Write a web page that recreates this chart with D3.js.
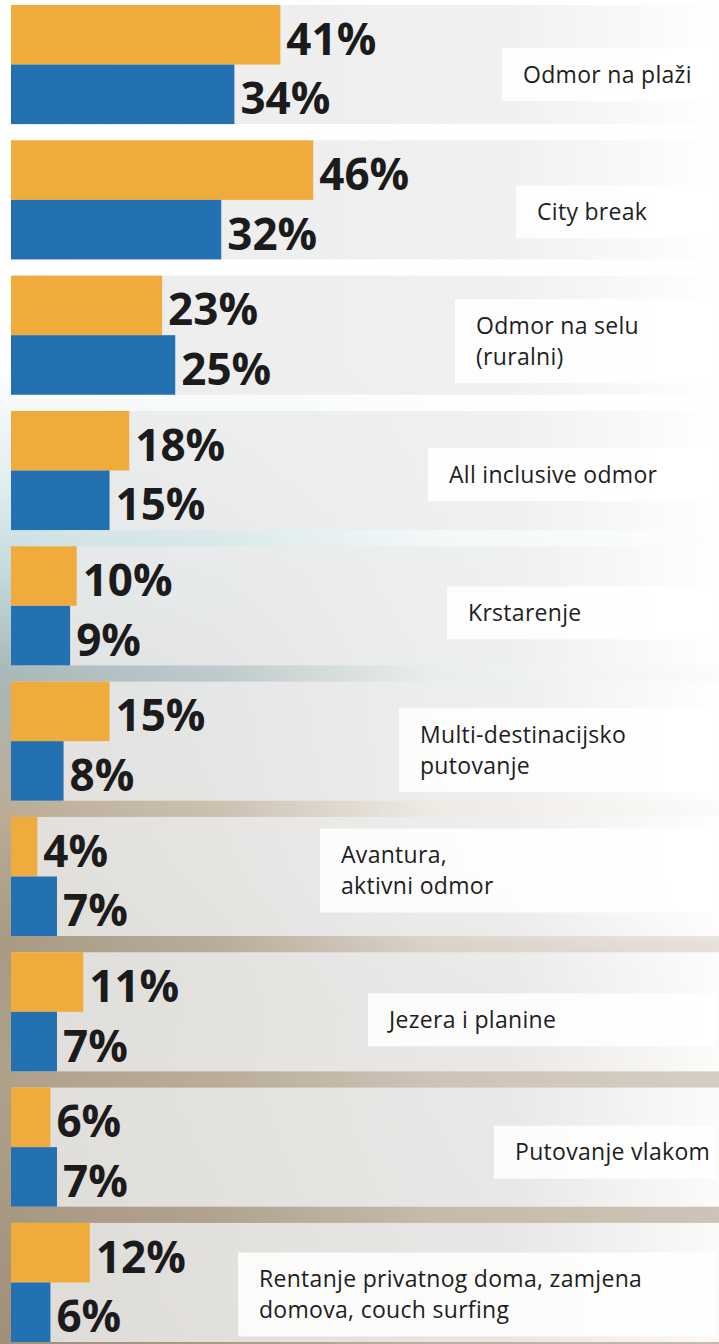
<!DOCTYPE html>
<html>
<head>
<meta charset="utf-8">
<script src="https://cdn.jsdelivr.net/npm/d3@7"></script>
<style>
  html, body { margin: 0; padding: 0; background: #fff; }
  svg { display: block; }
</style>
</head>
<body>
<div id="chart"></div>
<script>
// data
var categories = [
  "Odmor na plaži",
  "City break",
  "Odmor na selu (ruralni)",
  "All inclusive odmor",
  "Krstarenje",
  "Multi-destinacijsko putovanje",
  "Avantura, aktivni odmor",
  "Jezera i planine",
  "Putovanje vlakom",
  "Rentanje privatnog doma, zamjena domova, couch surfing"
];
// label text broken into lines as in the picture
var labelLines = [
  ["Odmor na plaži"],
  ["City break"],
  ["Odmor na selu", "(ruralni)"],
  ["All inclusive odmor"],
  ["Krstarenje"],
  ["Multi-destinacijsko", "putovanje"],
  ["Avantura,", "aktivni odmor"],
  ["Jezera i planine"],
  ["Putovanje vlakom"],
  ["Rentanje privatnog doma, zamjena", "domova, couch surfing"]
];
var seriesKeys = ["orange", "blue"];
var orangeValues = [41, 46, 23, 18, 10, 15, 4, 11, 6, 12];
var blueValues   = [34, 32, 25, 15, 9, 8, 7, 7, 7, 6];

// label box layout (left edge, vertical shift from row centre)
var labelBoxX  = [502, 516, 455, 428, 447, 399, 320, 368, 494, 238];
var labelShift = [10, 12, 6, 4, 7, 9, -6, 8, 5, 12];

var width = 719, height = 1344;
var colors = { orange: "#f0ab3d", blue: "#2471b1" };

var rows = categories.map(function(c, i) {
  return { cat: c, i: i, orange: orangeValues[i], blue: blueValues[i] };
});

var x = d3.scaleLinear()
    .domain([0, 100])
    .range([11, 668]);

var y = d3.scaleBand()
    .domain(categories)
    .range([5, 1342])
    .paddingInner(0.12)
    .paddingOuter(0);

var ySub = d3.scaleBand()
    .domain(seriesKeys)
    .range([0, y.bandwidth()]);

var svg = d3.select("#chart").append("svg")
    .attr("width", width)
    .attr("height", height);

var defs = svg.append("defs");

// beach photo stand-in behind the panels
var bg = defs.append("linearGradient").attr("id", "beach")
    .attr("x1", 0).attr("y1", 0).attr("x2", 0).attr("y2", 1);
[[0, "#ffffff"], [0.27, "#ffffff"], [0.35, "#e4f0f1"], [0.42, "#c6dde0"],
 [0.5, "#a9b8ba"], [0.6, "#bbad97"], [0.7, "#a89a83"], [0.8, "#b0a18b"],
 [1, "#a09079"]].forEach(function(s) {
  bg.append("stop").attr("offset", s[0]).attr("stop-color", s[1]);
});

var fade = defs.append("linearGradient").attr("id", "fadeRight")
    .attr("x1", 0).attr("y1", 0).attr("x2", 1).attr("y2", 0);
[[0, 0], [0.3, 0.25], [0.6, 0.75], [1, 0.95]].forEach(function(s) {
  fade.append("stop").attr("offset", s[0])
      .attr("stop-color", "#fff").attr("stop-opacity", s[1]);
});

var vmask = defs.append("linearGradient").attr("id", "vmaskGrad")
    .attr("x1", 0).attr("y1", 0).attr("x2", 0).attr("y2", 1);
[[0, "#fff"], [0.65, "#fff"], [0.75, "#888"], [1, "#666"]].forEach(function(s) {
  vmask.append("stop").attr("offset", s[0]).attr("stop-color", s[1]);
});
defs.append("mask").attr("id", "vmask")
    .append("rect").attr("width", width).attr("height", height)
    .attr("fill", "url(#vmaskGrad)");

var panelGrad = defs.append("linearGradient").attr("id", "panel")
    .attr("x1", 0).attr("y1", 0).attr("x2", 1).attr("y2", 0);
[[0, "#e9e9e9", 0.85], [0.7, "#eeeeee", 0.86], [1, "#ffffff", 0.93]].forEach(function(s) {
  panelGrad.append("stop").attr("offset", s[0])
      .attr("stop-color", s[1]).attr("stop-opacity", s[2]);
});

svg.append("rect")
    .attr("width", width).attr("height", height)
    .attr("fill", "url(#beach)");

svg.append("rect")
    .attr("width", width).attr("height", height)
    .attr("fill", "url(#fadeRight)")
    .attr("mask", "url(#vmask)");

var row = svg.selectAll(".row")
    .data(rows)
    .enter().append("g")
    .attr("class", "row")
    .attr("transform", function(d) { return "translate(0," + y(d.cat) + ")"; });

// grey panel behind each pair of bars
row.append("rect")
    .attr("x", x(0))
    .attr("width", width - x(0))
    .attr("height", y.bandwidth())
    .attr("fill", "url(#panel)");

seriesKeys.forEach(function(k) {
  row.append("rect")
      .attr("class", "bar " + k)
      .attr("x", x(0))
      .attr("y", ySub(k))
      .attr("width", function(d) { return x(d[k]) - x(0); })
      .attr("height", ySub.bandwidth())
      .attr("fill", colors[k]);

  row.append("text")
      .attr("class", "value")
      .attr("x", function(d) { return x(d[k]) + 6; })
      .attr("y", ySub(k) + ySub.bandwidth() / 2 + 20)
      .attr("font-family", "'Open Sans', sans-serif")
      .attr("font-weight", 700)
      .attr("font-size", "44px")
      .attr("fill", "#1b1b1b")
      .text(function(d) { return d[k] + "%"; });
});

// category labels on white boxes
var lineH = 31;
var label = row.append("g")
    .attr("transform", function(d) {
      return "translate(" + labelBoxX[d.i] + "," + (y.bandwidth() / 2 + labelShift[d.i]) + ")";
    });

label.append("rect")
    .attr("x", 0)
    .attr("y", function(d) { return -(labelLines[d.i].length * lineH + 22) / 2; })
    .attr("width", function(d) { return width - 3 - labelBoxX[d.i]; })
    .attr("height", function(d) { return labelLines[d.i].length * lineH + 22; })
    .attr("fill", "#fff")
    .attr("fill-opacity", 0.85);

label.each(function(d) {
  var lines = labelLines[d.i];
  var t = d3.select(this).append("text")
      .attr("font-family", "'Open Sans', sans-serif")
      .attr("font-size", "23px")
      .attr("letter-spacing", "0.3px")
      .attr("fill", "#1e1e1e");
  lines.forEach(function(l, j) {
    t.append("tspan")
        .attr("x", 21)
        .attr("y", (j - (lines.length - 1) / 2) * lineH + 8)
        .text(l);
  });
});
</script>
</body>
</html>
